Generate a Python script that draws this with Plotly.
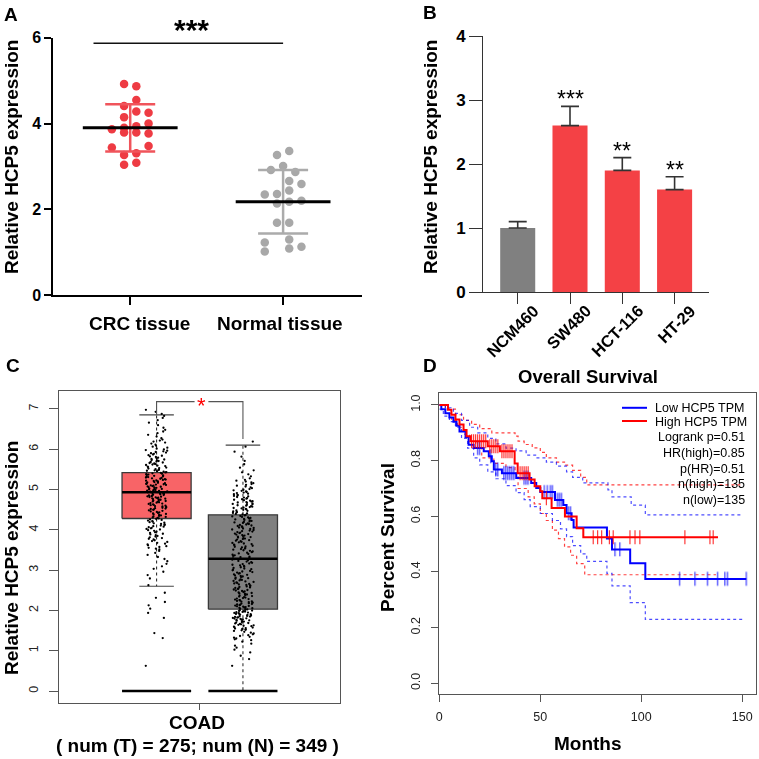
import numpy as np
import plotly.graph_objects as go

W = H = 759
FONT = "Liberation Sans, Arial, Helvetica, sans-serif"

# ---------------- Panel A data ----------------
a_groups = ["CRC tissue", "Normal tissue"]
crc_values = [4.92, 4.87, 4.55, 4.41, 4.28, 4.25, 4.15, 4.00, 3.94, 3.90,
              3.87, 3.79, 3.79, 3.77, 3.48, 3.44, 3.31, 3.27, 3.09, 3.04]
crc_slots = [-1, 1, 1, -1, 1, 3, -1, 3, 1, -1, -3, -1, 1, 3, 3, -3, 1, -1, 1, -1]
normal_values = [3.36, 3.27, 3.01, 2.92, 2.87, 2.66, 2.59, 2.44, 2.36, 2.35,
                 2.20, 2.18, 2.14, 1.69, 1.69, 1.30, 1.23, 1.13, 1.09, 1.02]
normal_slots = [1, -1, 0, -2, 2, 1, 3, 1, -1, -3, 3, 1, -1, -1, 1, 1, -3, 3, 1, -3]
a_means = [3.90, 2.18]
a_sds = [0.55, 0.74]
a_yticks = [0, 2, 4, 6]
a_sig_y = 5.87

# ---------------- Panel B data ----------------
b_cells = ["NCM460", "SW480", "HCT-116", "HT-29"]
b_values = [1.0, 2.6, 1.9, 1.6]
b_errors = [0.1, 0.3, 0.2, 0.2]
b_sig = ["", "***", "**", "**"]
b_yticks = [0, 1, 2, 3, 4]

# ---------------- Panel C data ----------------
c_groups = ["Tumor", "Normal"]
c_bin_start = [0.50, 0.75, 1.00, 1.25, 1.50, 1.75, 2.00, 2.25, 2.50, 2.75, 3.00, 3.25, 3.50,
               3.75, 4.00, 4.25, 4.50, 4.75, 5.00, 5.25, 5.50, 5.75, 6.00, 6.25, 6.50, 6.75]
c_tumor_counts = [1, 0, 0, 2, 0, 2, 3, 2, 1, 3, 4, 5, 12, 14, 18, 20, 24, 30, 28, 24, 20, 16, 10, 6, 4, 5]
c_normal_counts = [1, 3, 5, 12, 22, 30, 26, 20, 20, 18, 16, 16, 18, 20, 20, 20, 22, 18, 12, 5, 3, 2, 2, 0, 0, 0]
c_q1 = [4.28, 2.03]
c_median = [4.93, 3.28]
c_q3 = [5.42, 4.37]
c_whisk_lo = [2.60, 0.00]
c_whisk_hi = [6.85, 6.10]
c_bracket_y = 7.18
c_bracket_ends = [6.85, 6.25]
c_yticks = [0, 1, 2, 3, 4, 5, 6, 7]

# ---------------- Panel D data ----------------
high_t = [0, 4.3, 6, 8, 10, 12, 13.5, 15.5, 24, 30, 37.3, 38.8, 44.7, 47.2, 50, 51, 55.6, 62.2, 68, 71.3, 138]
high_s = [1.0, 0.983, 0.965, 0.948, 0.93, 0.91, 0.888, 0.87, 0.852, 0.834, 0.79, 0.755, 0.732, 0.708,
          0.69, 0.665, 0.63, 0.599, 0.557, 0.525, 0.525]
low_t = [0, 1, 3, 5, 7, 8.5, 10, 13, 14.5, 17, 22, 24.5, 26, 27, 31, 38.1, 45.5, 48, 50, 57.3, 61.4,
         63, 65.5, 66.5, 83, 85.5, 94.5, 102, 152]
low_s = [1.0, 0.985, 0.97, 0.955, 0.94, 0.925, 0.905, 0.885, 0.857, 0.845, 0.834, 0.816, 0.798, 0.768,
         0.755, 0.738, 0.72, 0.702, 0.687, 0.659, 0.641, 0.611, 0.587, 0.56, 0.52, 0.481, 0.431, 0.375, 0.375]
high_cens = [16, 17, 18, 19, 20, 21, 22, 23, 25, 26, 27, 28, 29, 31, 32, 33, 34, 35, 36, 40, 41, 42, 43,
             44, 53, 76.2, 78.4, 80.4, 84.2, 86.1, 94.4, 96.9, 99.3, 121.6, 134, 135.6]
low_cens = [19, 20, 25.5, 28, 29, 32, 33, 34, 35, 36, 37, 42, 43, 44, 52, 53.5, 55, 56, 58.5, 59.5, 60.5,
            64, 65, 87, 89.4, 119, 126.6, 132.8, 137.8, 141.4, 142.7, 152]
high_up_t = [0, 4, 8, 12, 16, 20, 26, 37.5, 39, 42, 46, 50, 53, 58, 62, 66, 70, 73, 149]
high_up_s = [1.0, 0.985, 0.965, 0.945, 0.93, 0.915, 0.9, 0.888, 0.87, 0.858, 0.846, 0.83, 0.81, 0.795,
             0.784, 0.765, 0.74, 0.713, 0.713]
high_lo_t = [0, 3, 6, 9, 12, 15, 18, 21, 27, 33, 37.5, 39, 44, 47, 50, 53, 56, 59, 62, 65, 68, 72, 137]
high_lo_s = [1.0, 0.97, 0.945, 0.92, 0.895, 0.87, 0.845, 0.81, 0.79, 0.775, 0.755, 0.70, 0.67, 0.645,
             0.61, 0.585, 0.55, 0.52, 0.49, 0.46, 0.43, 0.39, 0.39]
low_up_t = [0, 3, 7, 11, 15, 19, 24, 28, 33, 38, 43, 48, 53, 58, 63, 66, 71, 83.5, 85.5, 95, 102, 150]
low_up_s = [1.0, 0.99, 0.97, 0.945, 0.92, 0.9, 0.88, 0.86, 0.845, 0.835, 0.82, 0.81, 0.795, 0.78, 0.76,
            0.74, 0.72, 0.695, 0.67, 0.64, 0.605, 0.605]
low_lo_t = [0, 2, 5, 8, 11, 14, 17, 20, 24, 28, 33, 38, 42, 45, 50, 56, 60, 63, 66, 70, 73, 83, 85.5,
            94.5, 102, 150]
low_lo_s = [0.985, 0.96, 0.94, 0.92, 0.88, 0.845, 0.81, 0.785, 0.76, 0.735, 0.71, 0.685, 0.66, 0.635,
            0.61, 0.585, 0.555, 0.527, 0.495, 0.465, 0.438, 0.395, 0.35, 0.29, 0.23, 0.23]
d_legend = ["Low HCP5 TPM", "High HCP5 TPM"]
d_stats = ["Logrank p=0.51", "HR(high)=0.85", "p(HR)=0.51", "n(high)=135", "n(low)=135"]
d_xticks = [0, 50, 100, 150]
d_yticks = [0.0, 0.2, 0.4, 0.6, 0.8, 1.0]


def PX(p):
    return p / W


def PY(p):
    return 1 - p / H


fig = go.Figure()

# ================= Panel A =================
RED_A = "#EE3B43"
GRAY_A = "#A8A8A8"
slot_w = 0.04
for gi, (vals, slots, col) in enumerate([(crc_values, crc_slots, RED_A),
                                         (normal_values, normal_slots, GRAY_A)]):
    fig.add_trace(go.Scatter(
        x=[gi + s * slot_w for s in slots], y=vals, mode="markers",
        marker=dict(size=8.5, color=col, line=dict(width=0)),
        xaxis="x", yaxis="y", showlegend=False, hoverinfo="skip"))
for gi, col in enumerate(["#F0545B", "#ABABAB"]):
    fig.add_trace(go.Scatter(
        x=[gi], y=[a_means[gi]], mode="markers", marker=dict(size=0.1, color=col),
        error_y=dict(type="data", array=[a_sds[gi]], width=25, thickness=2.5, color=col),
        xaxis="x", yaxis="y", showlegend=False, hoverinfo="skip"))
    fig.add_trace(go.Scatter(
        x=[gi - 0.31, gi + 0.31], y=[a_means[gi]] * 2, mode="lines",
        line=dict(color="black", width=3), xaxis="x", yaxis="y",
        showlegend=False, hoverinfo="skip"))
fig.add_trace(go.Scatter(
    x=[-0.24, 1.0], y=[a_sig_y, a_sig_y], mode="lines", line=dict(color="#111", width=1.5),
    xaxis="x", yaxis="y", showlegend=False, hoverinfo="skip"))

# ================= Panel B =================
fig.add_trace(go.Bar(
    x=list(range(len(b_cells))), y=b_values, width=0.67,
    marker=dict(color=["#808080", "#F44145", "#F44145", "#F44145"], line=dict(width=0)),
    error_y=dict(type="data", array=b_errors, arrayminus=[0] * len(b_errors), symmetric=False,
                 width=9, thickness=1.6, color="#333"),
    xaxis="x2", yaxis="y2", showlegend=False, hoverinfo="skip"))

# ================= Panel C =================
box_fill = ["#F86467", "#808080"]
half = 0.4
cap = 0.2
for gi in range(2):
    fig.add_trace(go.Scatter(
        x=[gi - half, gi + half, gi + half, gi - half, gi - half],
        y=[c_q1[gi], c_q1[gi], c_q3[gi], c_q3[gi], c_q1[gi]],
        mode="lines", fill="toself", fillcolor=box_fill[gi], line=dict(color="#3a3a3a", width=1.3),
        xaxis="x3", yaxis="y3", showlegend=False, hoverinfo="skip"))
    fig.add_trace(go.Scatter(
        x=[gi, gi, None, gi, gi], y=[c_q3[gi], c_whisk_hi[gi], None, c_q1[gi], c_whisk_lo[gi]],
        mode="lines", line=dict(color="#333", width=1.1, dash="dot"),
        xaxis="x3", yaxis="y3", showlegend=False, hoverinfo="skip"))
    fig.add_trace(go.Scatter(
        x=[gi - cap, gi + cap, None, gi - cap, gi + cap],
        y=[c_whisk_hi[gi], c_whisk_hi[gi], None, c_whisk_lo[gi], c_whisk_lo[gi]],
        mode="lines", line=dict(color="#444", width=1.1),
        xaxis="x3", yaxis="y3", showlegend=False, hoverinfo="skip"))
    fig.add_trace(go.Scatter(
        x=[gi - half, gi + half], y=[c_median[gi]] * 2, mode="lines",
        line=dict(color="black", width=2.6), xaxis="x3", yaxis="y3",
        showlegend=False, hoverinfo="skip"))
    fig.add_trace(go.Scatter(
        x=[gi - half, gi + half], y=[0, 0], mode="lines",
        line=dict(color="black", width=2.6), xaxis="x3", yaxis="y3",
        showlegend=False, hoverinfo="skip"))

# jittered dots from histogram counts
# (display jitter uses a deterministic quadratic Weyl sequence)
sqrt2 = 2 ** 0.5
for gi, counts in enumerate([c_tumor_counts, c_normal_counts]):
    ys, xs = [], []
    k = 0
    for lo, n in zip(c_bin_start, counts):
        for j in range(n):
            ys.append(lo + (j + 0.5) * 0.25 / n)
            xs.append(gi + (((k * k * sqrt2 + k * 0.37) % 1.0) - 0.5) * 0.25)
            k += 1
    fig.add_trace(go.Scatter(
        x=xs, y=ys, mode="markers", marker=dict(size=2.3, color="black", line=dict(width=0)),
        xaxis="x3", yaxis="y3", showlegend=False, hoverinfo="skip"))

# significance bracket
fig.add_trace(go.Scatter(
    x=[0, 0, 0.44, None, 0.6, 1, 1],
    y=[c_bracket_ends[0], c_bracket_y, c_bracket_y, None, c_bracket_y, c_bracket_y, c_bracket_ends[1]],
    mode="lines", line=dict(color="#555", width=1.1),
    xaxis="x3", yaxis="y3", showlegend=False, hoverinfo="skip"))

# ================= Panel D =================
BLUE = "#0000FF"
RED = "#FF0000"


def surv_at(ts, ss, t):
    idx = np.searchsorted(np.array(ts), np.array(t), side="right") - 1
    return [ss[i] for i in idx]


for (tt, ss, col) in [(high_up_t, high_up_s, "rgba(255,0,0,0.75)"), (high_lo_t, high_lo_s, "rgba(255,0,0,0.75)"),
                      (low_up_t, low_up_s, "rgba(0,0,255,0.7)"), (low_lo_t, low_lo_s, "rgba(0,0,255,0.7)")]:
    fig.add_trace(go.Scatter(
        x=tt, y=ss, mode="lines", line=dict(color=col, width=1.2, dash="dot", shape="hv"),
        xaxis="x4", yaxis="y4", showlegend=False, hoverinfo="skip"))

for (tt, ss, cens, col) in [(low_t, low_s, low_cens, BLUE), (high_t, high_s, high_cens, RED)]:
    fig.add_trace(go.Scatter(
        x=tt, y=ss, mode="lines", line=dict(color=col, width=2, shape="hv"),
        xaxis="x4", yaxis="y4", showlegend=False, hoverinfo="skip"))
    fig.add_trace(go.Scatter(
        x=cens, y=surv_at(tt, ss, cens), mode="markers",
        marker=dict(symbol="line-ns", size=10, line=dict(color=col, width=1.1)),
        opacity=0.85, xaxis="x4", yaxis="y4", showlegend=False, hoverinfo="skip"))

# ================= Layout =================
ann = []


def text(x, y, s, size, bold=False, color="black", angle=0, xanchor="center", yanchor="middle"):
    ann.append(dict(x=PX(x), y=PY(y), xref="paper", yref="paper", text=(f"<b>{s}</b>" if bold else s),
                    showarrow=False, textangle=angle, xanchor=xanchor, yanchor=yanchor,
                    font=dict(family=FONT, size=size, color=color)))


# panel letters
text(10.5, 14, "A", 19, True)
text(430, 12, "B", 19, True)
text(12.5, 365, "C", 19, True)
text(430, 365, "D", 19, True)

# Panel A text
text(191, 30, "***", 30, True)
text(139, 323, a_groups[0], 19, True)
text(280, 323, a_groups[1], 19, True)
text(11, 157, "Relative HCP5 expression", 19, True, angle=-90)

# Panel B text
text(430, 157, "Relative HCP5 expression", 19, True, angle=-90)
for i, s in enumerate(b_sig):
    if s:
        ann.append(dict(x=i, y=b_values[i] + b_errors[i], xref="x2", yref="y2", text=s,
                        showarrow=False, yanchor="bottom", yshift=-8,
                        font=dict(family=FONT, size=23, color="black")))
for i, s in enumerate(b_cells):
    ann.append(dict(x=i, y=PY(299), xref="x2", yref="paper", text=f"<b>{s}</b>", showarrow=False,
                    textangle=-45, xanchor="right", yanchor="top", xshift=27,
                    font=dict(family=FONT, size=16.5, color="black")))

# Panel C text
ann.append(dict(x=0.52, y=c_bracket_y, xref="x3", yref="y3", text="*", showarrow=False,
                yanchor="middle", yshift=-4, font=dict(family=FONT, size=22, color="#FF0000")))
text(11, 558, "Relative HCP5 expression", 19, True, angle=-90)
text(197, 722, "COAD", 19, True)
text(197, 745, "( num (T) = 275; num (N) = 349 )", 19, True)

# Panel D text
text(588, 377, "Overall Survival", 18.5, True)
text(588, 743, "Months", 19, True)
text(387, 538, "Percent Survival", 19, True, angle=-90)
text(652.7, 407.5, d_legend[0], 12.5, xanchor="left")
text(652.7, 421.5, d_legend[1], 12.5, xanchor="left")
for i, s in enumerate(d_stats):
    text(746.7, 437.3 + i * 15.6, s, 12.5, xanchor="right")

shapes = [
    dict(type="line", xref="paper", yref="paper", x0=PX(622), x1=PX(647), y0=PY(407.8), y1=PY(407.8),
         line=dict(color=BLUE, width=2)),
    dict(type="line", xref="paper", yref="paper", x0=PX(622), x1=PX(647), y0=PY(421), y1=PY(421),
         line=dict(color=RED, width=2)),
]

tick_a = dict(family="Liberation Sans Narrow, " + FONT, size=16, color="black", weight="bold")
tick_b = dict(family=FONT, size=17, color="black", weight="bold")
tick_cd = dict(family=FONT, size=12.5, color="#222")

common = dict(automargin=False, showgrid=False, zeroline=False, fixedrange=True)

fig.update_layout(
    template="none",
    width=W, height=H, margin=dict(l=0, r=0, t=0, b=0, pad=0, autoexpand=False),
    paper_bgcolor="white", plot_bgcolor="white", showlegend=False,
    font=dict(family=FONT),
    annotations=ann, shapes=shapes,
    # Panel A
    xaxis=dict(domain=[PX(53.3), PX(362)], range=[-0.503, 1.516], showline=True, linewidth=2,
               linecolor="black", ticks="outside", tickvals=[0, 1], ticklen=8, tickwidth=2,
               tickcolor="black", showticklabels=False, anchor="y", **common),
    yaxis=dict(domain=[PY(295.3), PY(37.7)], range=[0, 6], showline=True, linewidth=2,
               linecolor="black", ticks="outside", tickvals=a_yticks, ticklen=7, tickwidth=2,
               tickcolor="black", tickfont=tick_a, anchor="x", **common),
    # Panel B
    xaxis2=dict(domain=[PX(483.3), PX(709)], range=[-0.658, 3.658], showline=True, linewidth=1.3,
                linecolor="#333", ticks="outside", tickvals=list(range(4)), showticklabels=False,
                ticklen=11, tickwidth=1.3, tickcolor="#333", anchor="y2", **common),
    yaxis2=dict(domain=[PY(292), PY(36)], range=[0, 4], showline=True, linewidth=1.3,
                linecolor="#333", ticks="outside", tickvals=b_yticks, ticklen=13, tickwidth=1.3,
                tickcolor="#333", tickfont=tick_b, anchor="x2", **common),
    # Panel C
    xaxis3=dict(domain=[PX(59), PX(340)], range=[-1.13, 2.124], showline=True, mirror=True,
                linewidth=1.3, linecolor="#555", ticks="outside", tickvals=[0.5], ticklen=6,
                tickcolor="#555", showticklabels=False, anchor="y3", **common),
    yaxis3=dict(domain=[PY(702.7), PY(390.7)], range=[-0.29, 7.45], showline=True, mirror=True,
                linewidth=1.3, linecolor="#555", ticks="outside", tickvals=c_yticks, ticklen=9,
                tickcolor="#555", tickangle=-90, tickfont=tick_cd, ticklabelstandoff=6,
                anchor="x3", **common),
    # Panel D
    xaxis4=dict(domain=[PX(439.3), PX(756)], range=[0, 156.8], showline=True, mirror=True,
                linewidth=1.3, linecolor="#555", ticks="outside", tickvals=d_xticks, ticklen=7,
                tickcolor="#555", tickfont=tick_cd, ticklabelstandoff=4,
                anchor="y4", **common),
    yaxis4=dict(domain=[PY(694), PY(393.3)], range=[-0.0385, 1.042], showline=True, mirror=True,
                linewidth=1.3, linecolor="#555", ticks="outside", tickvals=d_yticks,
                ticktext=[f"{v:.1f}" for v in d_yticks], ticklen=7, tickcolor="#555",
                tickangle=-90, tickfont=tick_cd, ticklabelstandoff=6,
                anchor="x4", **common),
)

fig.write_html(
    "out.html",
    config={"displayModeBar": False, "responsive": False},
    post_script="document.body.style.margin='0px';document.body.style.padding='0px';"
                "document.documentElement.style.overflow='hidden';",
)
